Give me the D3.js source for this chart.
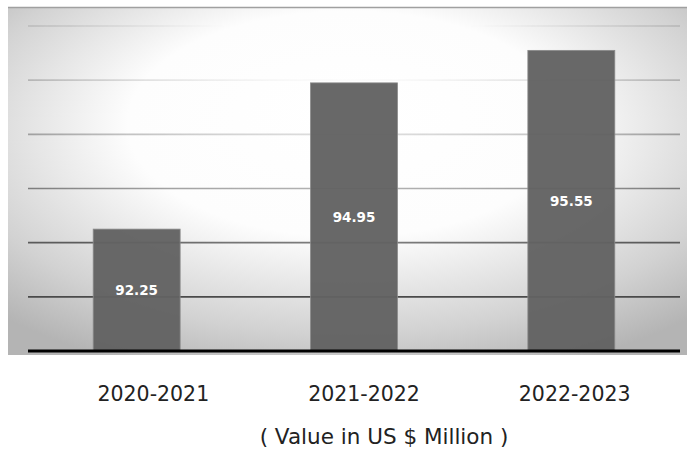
<!DOCTYPE html>
<html>
<head>
<meta charset="utf-8">
<script src="https://cdn.jsdelivr.net/npm/d3@7/dist/d3.min.js"></script>
<style>
  html, body { margin: 0; padding: 0; background: #fff; }
  svg { display: block; }
</style>
</head>
<body>
<script>
// Market value by fiscal year
const categories = ["2020-2021", "2021-2022", "2022-2023"];
const values = [92.25, 94.95, 95.55];
const gridTicks = [91, 92, 93, 94, 95, 96];
const subtitle = "( Value in US $ Million )";

const W = 689, H = 449;
const plot = { left: 28, right: 680, top: 26, bottom: 351 };

const svg = d3.select("body").append("svg")
  .attr("width", W).attr("height", H);

const defs = svg.append("defs");

// soft radial backdrop: white centre fading to grey edges
const bg = defs.append("radialGradient").attr("id", "bgGrad")
  .attr("cx", 0.5).attr("cy", 0.38).attr("r", 0.72)
  .attr("fx", 0.5).attr("fy", 0.3);
bg.append("stop").attr("offset", 0).attr("stop-color", "#ffffff");
bg.append("stop").attr("offset", 0.45).attr("stop-color", "#fdfdfd");
bg.append("stop").attr("offset", 0.8).attr("stop-color", "#d2d2d2");
bg.append("stop").attr("offset", 1).attr("stop-color", "#b4b4b4");

// gridlines fade out towards the bright upper centre
const fade = defs.append("radialGradient").attr("id", "fadeGrad")
  .attr("cx", 0.5).attr("cy", 0.0).attr("r", 0.85);
fade.append("stop").attr("offset", 0).attr("stop-color", "#000");
fade.append("stop").attr("offset", 0.22).attr("stop-color", "#000");
fade.append("stop").attr("offset", 0.92).attr("stop-color", "#fff");
const mask = defs.append("mask").attr("id", "gridMask")
  .attr("maskUnits", "userSpaceOnUse")
  .attr("x", 0).attr("y", 0).attr("width", W).attr("height", H);
mask.append("rect").attr("x", 8).attr("y", 7).attr("width", 679).attr("height", 348)
  .attr("fill", "url(#fadeGrad)");

svg.append("rect")
  .attr("x", 8).attr("y", 7).attr("width", 679).attr("height", 348)
  .attr("fill", "url(#bgGrad)");
svg.append("line")
  .attr("x1", 8).attr("x2", 687).attr("y1", 7.5).attr("y2", 7.5)
  .attr("stroke", "#a0a0a0").attr("stroke-width", 1.5);

const x = d3.scaleBand()
  .domain(categories)
  .range([plot.left, plot.right])
  .paddingInner(0.6).paddingOuter(0.3);

const y = d3.scaleLinear()
  .domain([90, 96])
  .range([plot.bottom, plot.top]);

// upper gridlines are drawn lighter
const gridAlpha = d3.scaleLinear().domain([91, 96]).range([1, 0.4]);

// horizontal gridlines
svg.append("g").attr("mask", "url(#gridMask)")
  .selectAll("line").data(gridTicks).join("line")
  .attr("x1", plot.left).attr("x2", plot.right)
  .attr("y1", d => y(d)).attr("y2", d => y(d))
  .attr("stroke", "#4a4a4a").attr("stroke-width", 1.6)
  .attr("stroke-opacity", d => gridAlpha(d));

// bars
svg.append("g").selectAll("rect").data(values).join("rect")
  .attr("x", (d, i) => x(categories[i]))
  .attr("y", d => y(d))
  .attr("width", x.bandwidth())
  .attr("height", d => y(90) - y(d))
  .attr("fill", "#626262").attr("fill-opacity", 0.96)
  .attr("stroke", "#8a8a8a").attr("stroke-width", 0.8);

// value labels centred in bars
svg.append("g").selectAll("text").data(values).join("text")
  .attr("x", (d, i) => x(categories[i]) + x.bandwidth() / 2)
  .attr("y", d => (y(d) + y(90)) / 2)
  .attr("dy", "0.36em")
  .attr("text-anchor", "middle")
  .attr("font-family", "'DejaVu Sans', Verdana, sans-serif")
  .attr("font-weight", "bold")
  .attr("font-size", 13.5)
  .attr("fill", "#ffffff")
  .text(d => d.toFixed(2));

// baseline
svg.append("line")
  .attr("x1", plot.left).attr("x2", plot.right)
  .attr("y1", plot.bottom).attr("y2", plot.bottom)
  .attr("stroke", "#000").attr("stroke-width", 3);

// category axis
const xLabels = d3.scaleBand().domain(categories).range([48, 680]);
const axis = svg.append("g")
  .attr("transform", `translate(0, 375)`)
  .call(d3.axisBottom(xLabels).tickSize(0).tickPadding(0));
axis.select(".domain").remove();
axis.selectAll("text")
  .attr("font-family", "'DejaVu Sans', Verdana, sans-serif")
  .attr("font-size", 20.5)
  .attr("fill", "#222")
  .attr("dy", "1.25em");

svg.append("text")
  .attr("x", 384).attr("y", 444)
  .attr("text-anchor", "middle")
  .attr("font-family", "'DejaVu Sans', Verdana, sans-serif")
  .attr("font-size", 21.5)
  .attr("fill", "#222")
  .text(subtitle);
</script>
</body>
</html>
